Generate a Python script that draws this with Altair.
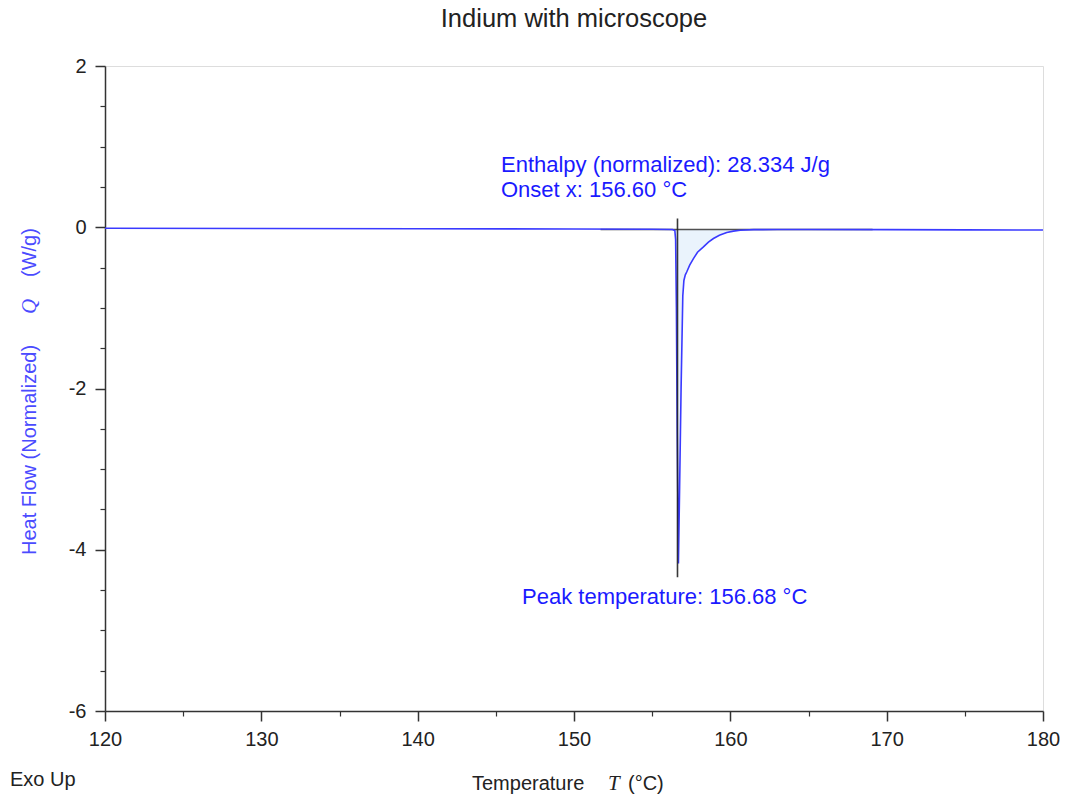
import altair as alt
import pandas as pd

# ---- data ----
temps = [120.0, 130.0, 140.0, 150.0, 155.0, 156.3, 156.45, 156.5, 156.55, 156.6,
         156.68, 156.75, 156.85, 156.96, 157.03, 157.12, 157.21, 157.4, 157.64,
         157.9, 158.28, 158.6, 158.92, 159.3, 159.77, 160.2, 160.63, 161.5,
         163.0, 165.0, 170.0, 175.0, 180.0]
heat = [-0.012, -0.015, -0.018, -0.022, -0.025, -0.027, -0.04, -0.15, -1.0, -2.5,
        -4.17, -3.3, -2.0, -0.85, -0.66, -0.59, -0.555, -0.47, -0.39,
        -0.31, -0.244, -0.185, -0.14, -0.10, -0.066, -0.048, -0.037, -0.03,
        -0.028, -0.028, -0.030, -0.032, -0.035]

baseline_T = [151.7, 169.1]
baseline_Q = [-0.027, -0.027]
onset_T = [156.62, 156.62]
onset_Q = [0.11, -4.34]

ann_T = [145.33, 145.33, 146.68]
ann_Q = [0.77, 0.46, -4.59]
ann_text = ["Enthalpy (normalized): 28.334 J/g", "Onset x: 156.60 °C",
            "Peak temperature: 156.68 °C"]

x_major = [120, 130, 140, 150, 160, 170, 180]
x_minor = [125, 135, 145, 155, 165, 175]
y_major = [-6, -4, -2, 0, 2]
y_minor = [-5.5, -5, -4.5, -3.5, -3, -2.5, -1.5, -1, -0.5, 0.5, 1, 1.5]

FONT = "Liberation Sans"
AXC = "#333333"

curve = pd.DataFrame({"T": temps, "Q": heat})
fill = curve[(curve["T"] >= 156.45) & (curve["T"] <= 162.0)].copy()
fill["B"] = -0.028
base = pd.DataFrame({"T": baseline_T, "Q": baseline_Q})
onset = pd.DataFrame({"T": onset_T, "Q": onset_Q})
ann = pd.DataFrame({"T": ann_T, "Q": ann_Q, "label": ann_text})

xs = alt.Scale(domain=[120, 180], nice=False, zero=False)
ys = alt.Scale(domain=[-6, 2], nice=False, zero=False)

major_x = alt.Axis(values=x_major, tickSize=10, tickWidth=1.5, tickColor=AXC,
                   domainColor=AXC, domainWidth=1.5, labelFont=FONT,
                   labelFontSize=20, labelColor="#222222", labelPadding=8,
                   labelFlush=False, labelExpr="'' + datum.value",
                   title=None, grid=False, orient="bottom")
minor_x = alt.Axis(values=x_minor, tickSize=5, tickWidth=1.2, tickColor=AXC,
                   labels=False, domain=False, title=None, grid=False,
                   orient="bottom")
major_y = alt.Axis(values=y_major, tickSize=10, tickWidth=1.5, tickColor=AXC,
                   domainColor=AXC, domainWidth=1.5, labelFont=FONT,
                   labelFontSize=20, labelColor="#222222", labelPadding=9,
                   labelFlush=False, labelExpr="'' + datum.value",
                   title=None, grid=False, orient="left")
minor_y = alt.Axis(values=y_minor, tickSize=5, tickWidth=1.2, tickColor=AXC,
                   labels=False, domain=False, title=None, grid=False,
                   orient="left")

area = alt.Chart(fill).mark_area(color="#eaf3fc", opacity=1).encode(
    x=alt.X("T:Q", scale=xs, axis=minor_x),
    y=alt.Y("Q:Q", scale=ys, axis=minor_y),
    y2="B:Q",
)

base_line = alt.Chart(base).mark_line(color="#333333", strokeWidth=1.6, opacity=0.85).encode(
    x=alt.X("T:Q", scale=xs, axis=None),
    y=alt.Y("Q:Q", scale=ys, axis=None),
)

line = alt.Chart(curve).mark_line(color="#3a3aff", strokeWidth=1.6).encode(
    x=alt.X("T:Q", scale=xs, axis=major_x),
    y=alt.Y("Q:Q", scale=ys, axis=major_y),
    order="T:Q",
)

vline = alt.Chart(onset).mark_line(color="#222222", strokeWidth=1.6, opacity=0.9).encode(
    x=alt.X("T:Q", scale=xs, axis=None),
    y=alt.Y("Q:Q", scale=ys, axis=None),
)

labels = alt.Chart(ann).mark_text(align="left", baseline="middle", font=FONT,
                                  fontSize=22, color="#1a1aff").encode(
    x=alt.X("T:Q", scale=xs, axis=None),
    y=alt.Y("Q:Q", scale=ys, axis=None),
    text="label:N",
)


def txt(s, x, y, **kw):
    return alt.Chart(pd.DataFrame({"t": [s]})).mark_text(**kw).encode(
        x=alt.value(x), y=alt.value(y), text="t:N")


sans = dict(font=FONT, fontSize=20, baseline="middle", align="left")
serif_it = dict(font="Liberation Serif", fontSize=21, fontStyle="italic",
                baseline="middle", align="left")
ycol = "#4b4bff"

texts = [
    txt("Exo Up", -95, 714, color="#222222", **sans),
    txt("Temperature", 367, 718, color="#222222", **sans),
    txt("T", 503, 718, color="#222222", **serif_it),
    txt("(°C)", 523, 718, color="#222222", **sans),
    txt("Heat Flow (Normalized)", -75, 489, color=ycol, angle=270, **sans),
    txt("Q", -75, 248, color=ycol, angle=270, **serif_it),
    txt("(W/g)", -75, 211, color=ycol, angle=270, **sans),
]

chart = alt.layer(area, base_line, line, vline, labels, *texts).resolve_axis(
    x="independent", y="independent"
).properties(
    width=938,
    height=645,
    padding={"left": 105, "top": 66, "right": 23, "bottom": 87},
    autosize=alt.AutoSizeParams(type="none"),
    title=alt.TitleParams("Indium with microscope", font=FONT, fontSize=25.5,
                          fontWeight="normal", color="#222222", anchor="middle",
                          offset=24),
).configure_view(
    stroke=AXC, strokeWidth=1.5
).configure(background="white")

chart.save("out.html", embed_options={"renderer": "svg", "actions": False})
